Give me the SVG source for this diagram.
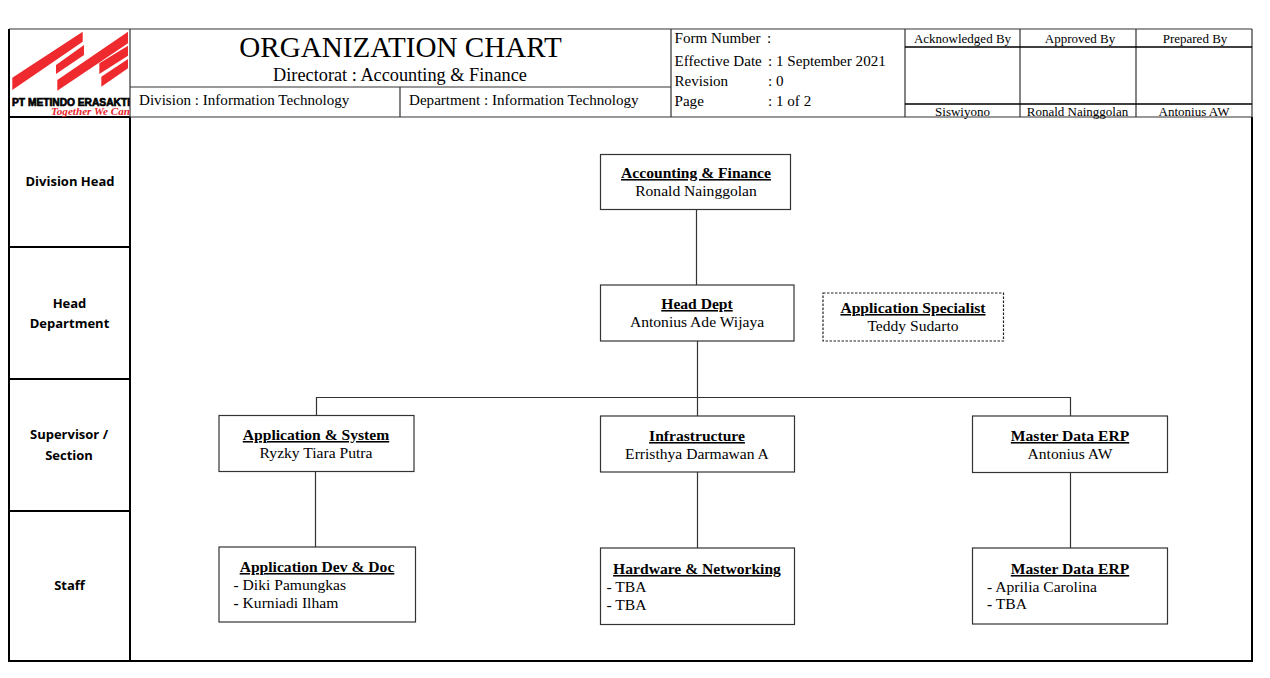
<svg xmlns="http://www.w3.org/2000/svg" width="1270" height="678" viewBox="0 0 1270 678">
<style>
text{font-family:"Liberation Serif","Times New Roman",serif;fill:#000}
.n{font-size:15.6px;text-anchor:middle}
.b{font-size:15.6px;font-weight:bold;text-anchor:middle;text-decoration:underline}
.l{font-size:15.6px}
.h{font-size:15.1px}
.s{font-size:13px;text-anchor:middle}
.lane{font-family:"Open Sans","Noto Sans",sans-serif;font-size:13px;font-weight:bold;text-anchor:middle}
.box{fill:#fff;stroke:#333;stroke-width:1.2}
.g{fill:none;stroke:#333;stroke-width:1.2}
.k{fill:none;stroke:#000;stroke-width:2}
.red{fill:#ee2a2e}
</style>
<defs><clipPath id="logoclip"><rect x="10" y="30" width="120" height="87"/></clipPath></defs>
<rect width="1270" height="678" fill="#fff"/>
<g id="frame">
<path class="k" d="M9 29V661H1252V117M9 117H130M130 117V661M9 247H130M9 379H130M9 511H130"/>
<path class="g" d="M9 29H1252M130 29V117M130 87H671M130 117H1252M400 87V117M671 29V117M905 29V117M1020 29V117M1136 29V117M1252 29V117"/>
<path class="k" style="stroke-width:1.5" d="M905 47H1252M905 104H1252"/>
</g>
<g id="logo" clip-path="url(#logoclip)">
<polygon class="red" points="12.3,77.7 82.7,31.7 82.7,41.7 12.3,90"/>
<polygon class="red" points="56,65 84,45 84,55 56,74"/>
<polygon class="red" points="57.3,80 128,31.7 128,43.3 57.3,90.7"/>
<polygon class="red" points="99.3,63.3 128,45.7 128,55.7 99.3,74"/>
<polygon class="red" points="101.3,76.7 128,59 128,68.3 101.3,86.7"/>
<text x="12" y="106" style="font-family:'Liberation Sans',sans-serif;font-size:10.5px;font-weight:bold;stroke:#000;stroke-width:.7" textLength="118" lengthAdjust="spacingAndGlyphs">PT METINDO ERASAKTI</text>
<text x="51" y="115" style="font-size:10px;font-style:italic;font-weight:bold;fill:#e8232a" textLength="79" lengthAdjust="spacingAndGlyphs">Together We Can</text>
</g>
<g id="header">
<text x="400.500" y="56.500" style="font-size:29.1px;text-anchor:middle">ORGANIZATION CHART</text>
<text x="400" y="81" style="font-size:18.300px;text-anchor:middle">Directorat : Accounting &amp; Finance</text>
<text x="139" y="105" class="h">Division : Information Technology</text>
<text x="409" y="105" class="h">Department : Information Technology</text>
<text x="674.500" y="43" class="h">Form Number</text><text x="767" y="43" class="h">:</text>
<text x="674.500" y="66" class="h">Effective Date</text><text x="768" y="66" class="h">: 1 September 2021</text>
<text x="674.500" y="86" class="h">Revision</text><text x="768" y="86" class="h">: 0</text>
<text x="674.500" y="106" class="h">Page</text><text x="768" y="106" class="h">: 1 of 2</text>
<text x="962.500" y="43" class="s">Acknowledged By</text>
<text x="1080" y="43" class="s">Approved By</text>
<text x="1195" y="43" class="s">Prepared By</text>
<text x="962.500" y="116" class="s">Siswiyono</text>
<text x="1077.500" y="116" class="s">Ronald Nainggolan</text>
<text x="1194" y="116" class="s">Antonius AW</text>
</g>
<g id="lanes">
<text x="70" y="186" class="lane">Division Head</text>
<text x="69.500" y="308" class="lane">Head</text>
<text x="69.500" y="328" class="lane">Department</text>
<text x="69" y="439" class="lane">Supervisor /</text>
<text x="69" y="460" class="lane">Section</text>
<text x="69.500" y="590" class="lane">Staff</text>
</g>
<g id="connectors">
<path class="g" d="M696.500 209V285M697.500 341V416M316.500 415V397.500H1070.500V416M315.500 471V547M697.500 472V548M1070.500 472V548"/>
</g>
<g id="node-accounting"><rect class="box" x="600.500" y="154.500" width="190" height="55"/><text x="696" y="178" class="b">Accounting &amp; Finance</text><text x="696" y="196" class="n">Ronald Nainggolan</text></g>
<g id="node-headdept"><rect class="box" x="600.500" y="285" width="193.500" height="56"/><text x="697" y="309" class="b">Head Dept</text><text x="697" y="327" class="n">Antonius Ade Wijaya</text></g>
<g id="node-specialist"><rect x="823" y="293" width="180.500" height="48" style="fill:#fff;stroke:#222;stroke-width:1.2;stroke-dasharray:2.500 1.500"/><text x="913" y="313" class="b">Application Specialist</text><text x="913" y="331" class="n">Teddy Sudarto</text></g>
<g id="node-appsys"><rect class="box" x="219" y="415.500" width="195" height="56"/><text x="316" y="440" class="b">Application &amp; System</text><text x="316" y="458" class="n">Ryzky Tiara Putra</text></g>
<g id="node-infra"><rect class="box" x="600.500" y="416" width="194" height="56"/><text x="697" y="441" class="b">Infrastructure</text><text x="697" y="459" class="n">Erristhya Darmawan A</text></g>
<g id="node-mde1"><rect class="box" x="972.500" y="416" width="195" height="56.500"/><text x="1070" y="441" class="b">Master Data ERP</text><text x="1070" y="459" class="n">Antonius AW</text></g>
<g id="node-appdev"><rect class="box" x="219" y="547" width="196.500" height="75"/><text x="317" y="572" class="b">Application Dev &amp; Doc</text><text x="233.500" y="590" class="l">- Diki Pamungkas</text><text x="233.500" y="608" class="l"><tspan font-weight="bold">-</tspan> Kurniadi Ilham</text></g>
<g id="node-hardware"><rect class="box" x="600.500" y="548" width="194" height="76.500"/><text x="697" y="574" class="b">Hardware &amp; Networking</text><text x="606.500" y="592" class="l">- TBA</text><text x="606.500" y="610" class="l">- TBA</text></g>
<g id="node-mde2"><rect class="box" x="972.500" y="548" width="195" height="76"/><text x="1070" y="574" class="b">Master Data ERP</text><text x="987" y="592" class="l">- Aprilia Carolina</text><text x="987" y="609" class="l"><tspan font-weight="bold">-</tspan> TBA</text></g>
</svg>
